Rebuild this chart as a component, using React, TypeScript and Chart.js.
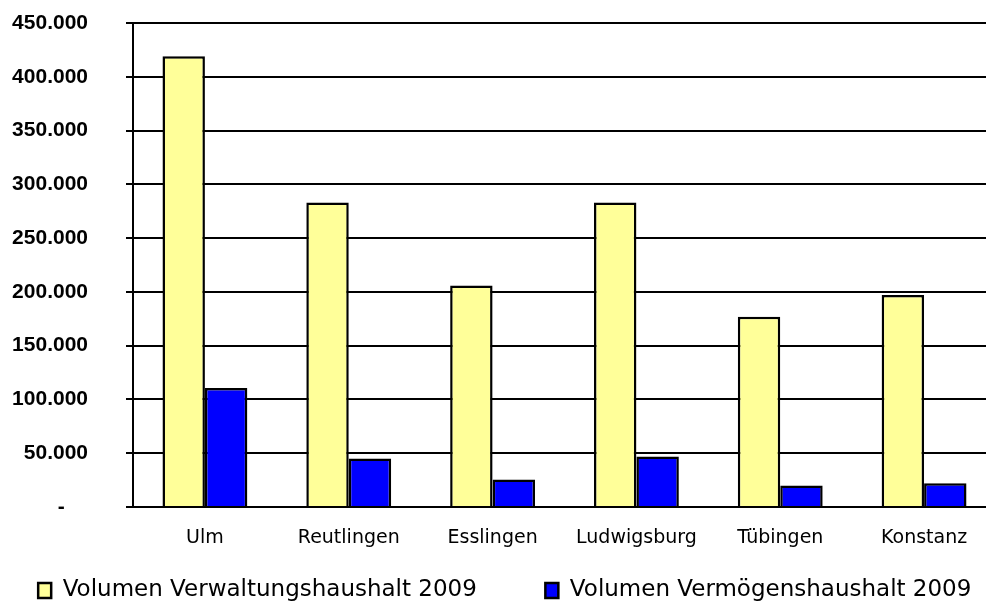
import React, { useEffect, useRef } from "react";
import { Chart, registerables } from "chart.js";

Chart.register(...registerables);

const categories = ["Ulm", "Reutlingen", "Esslingen", "Ludwigsburg", "Tübingen", "Konstanz"];
const verwaltungshaushalt = [419000, 283000, 206000, 283000, 177000, 197000];
const vermoegenshaushalt = [110700, 45000, 25600, 46900, 20000, 22000];
const seriesLabels = ["Volumen Verwaltungshaushalt 2009", "Volumen Vermögenshaushalt 2009"];
const yMax = 450000;
const yStep = 50000;

function formatTick(v: number): string {
  if (v === 0) return "-    ";
  return Math.round(v).toString().replace(/\B(?=(\d{3})+(?!\d))/g, ".");
}

export default function App() {
  const ref = useRef<HTMLCanvasElement | null>(null);
  useEffect(() => {
    if (!ref.current) return;
    const chart = new Chart(ref.current, {
      type: "bar",
      data: {
        labels: categories,
        datasets: [
          {
            label: seriesLabels[0],
            data: verwaltungshaushalt,
            backgroundColor: "#FFFF99",
            borderColor: "#000000",
            borderWidth: 2.5,
            borderSkipped: "bottom",
            barPercentage: 1,
            categoryPercentage: 0.59,
          },
          {
            label: seriesLabels[1],
            data: vermoegenshaushalt,
            backgroundColor: "#0000FF",
            borderColor: "#000000",
            borderWidth: 2.5,
            borderSkipped: "bottom",
            barPercentage: 1,
            categoryPercentage: 0.59,
          },
        ],
      },
      options: {
        animation: false,
        responsive: false,
        maintainAspectRatio: false,
        layout: { padding: { top: 23, left: 0, right: 4, bottom: 0 } },
        plugins: {
          tooltip: { enabled: false },
          legend: {
            position: "bottom",
            align: "end",
            labels: {
              color: "#000000",
              font: { family: "'DejaVu Sans'", size: 23 },
              boxWidth: 13,
              boxHeight: 15,
              padding: 10,
              generateLabels: (c: any) => {
                const items = Chart.defaults.plugins.legend.labels.generateLabels(c);
                return items.map((it: any, i: number) =>
                  i < items.length - 1
                    ? { ...it, text: it.text + "        " }
                    : { ...it, text: it.text + "  " }
                );
              },
            },
          },
        },
        scales: {
          x: {
            grid: { display: false, drawTicks: false, tickLength: 0 },
            border: { display: false },
            ticks: {
              color: "#000000",
              padding: 20,
              font: { family: "'DejaVu Sans'", size: 19 },
              maxRotation: 0,
              autoSkip: false,
            },
            afterFit: (s: any) => {
              s.height = 62;
            },
          },
          y: {
            min: 0,
            max: yMax,
            grid: { color: "#000000", lineWidth: 2, tickLength: 7, drawTicks: true },
            border: { display: true, color: "#000000", width: 2 },
            ticks: {
              stepSize: yStep,
              color: "#000000",
              padding: 38,
              font: { family: "'Liberation Sans'", size: 21, weight: "bold" },
              callback: (v: any) => formatTick(Number(v)),
            },
            afterFit: (s: any) => {
              s.width = 133;
              s.paddingTop = 0;
              s.paddingBottom = 0;
            },
          },
        },
      },
    } as any);
    return () => chart.destroy();
  }, []);
  return (
    <div
      style={{
        position: "fixed",
        left: 0,
        top: 0,
        width: 986,
        height: 609,
        overflow: "hidden",
        background: "#ffffff",
      }}
    >
      <canvas ref={ref} width={1000} height={612} style={{ display: "block", width: 1000, height: 612 }} />
    </div>
  );
}
